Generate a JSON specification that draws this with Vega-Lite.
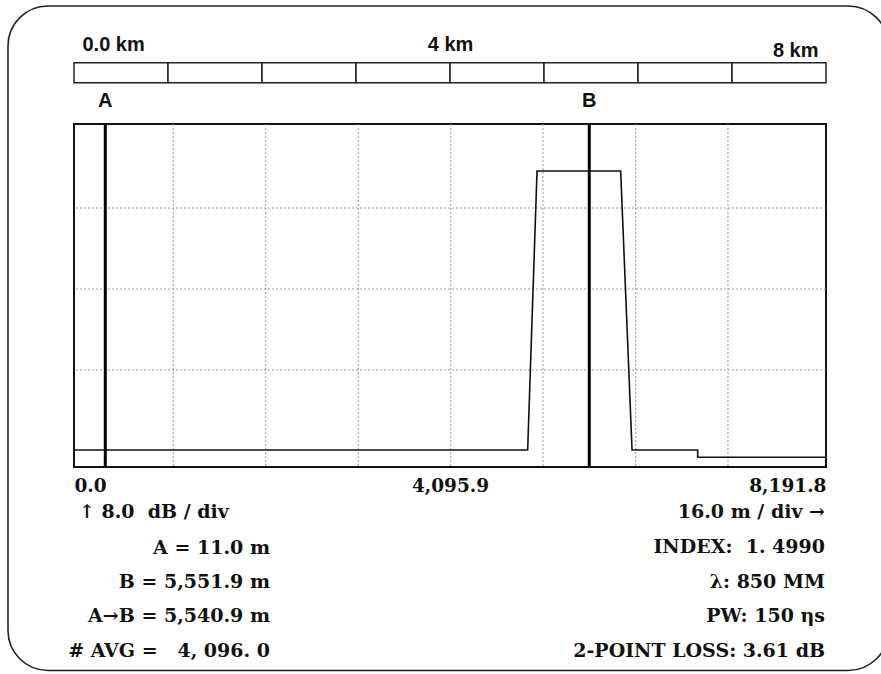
{
  "$schema": "https://vega.github.io/schema/vega-lite/v6.json",
  "width": 752,
  "height": 343,
  "autosize": {"type": "none"},
  "padding": {"left": 74, "top": 124, "right": 55, "bottom": 207},
  "background": "white",
  "config": {
    "view": {"stroke": "#111", "strokeWidth": 2},
    "text": {"color": "#111"}
  },
  "datasets": {
    "trace": [
      {"i": 0, "dist": 0, "dB": 0.1},
      {"i": 1, "dist": 4942, "dB": 0.1},
      {"i": 2, "dist": 5044, "dB": 27.66},
      {"i": 3, "dist": 5955, "dB": 27.66},
      {"i": 4, "dist": 6079, "dB": 0.1},
      {"i": 5, "dist": 6794, "dB": 0.1},
      {"i": 6, "dist": 6794, "dB": -0.62},
      {"i": 7, "dist": 8191.8, "dB": -0.62}
    ],
    "markers": [
      {"marker": "A", "dist": 341},
      {"marker": "B", "dist": 5613}
    ],
    "gridX": [
      {"dist": 1082}, {"dist": 2088}, {"dist": 3097}, {"dist": 4104},
      {"dist": 5109}, {"dist": 6119}, {"dist": 7124}
    ],
    "gridY": [
      {"dB": 8}, {"dB": 16}, {"dB": 24}
    ],
    "ruler": [
      {"from": 0, "to": 1024}, {"from": 1024, "to": 2048},
      {"from": 2048, "to": 3072}, {"from": 3072, "to": 4096},
      {"from": 4096, "to": 5120}, {"from": 5120, "to": 6144},
      {"from": 6144, "to": 7168}, {"from": 7168, "to": 8192}
    ],
    "info": [
      {"col": "scale", "text": "↑ 8.0\u00a0\u00a0dB / div"},
      {"col": "left", "text": "A = 11.0 m\nB = 5,551.9 m\nA→B = 5,540.9 m\n# AVG =\u00a0\u00a0\u00a04, 096. 0"},
      {"col": "right", "text": "16.0 m / div →\nINDEX:\u00a0\u00a01. 4990\nλ: 850 MM\nPW: 150 ηs\n2-POINT LOSS: 3.61 dB"}
    ]
  },
  "layer": [
    {
      "data": {"values": [{"panel": "screen"}]},
      "mark": {"type": "rect", "filled": false, "stroke": "#222", "strokeWidth": 1.6, "cornerRadius": 40, "clip": false},
      "encoding": {
        "x": {"datum": -719, "type": "quantitative", "axis": null},
        "x2": {"datum": 8870},
        "y": {"datum": 43.96, "type": "quantitative", "axis": null},
        "y2": {"datum": -21.68}
      }
    },
    {
      "data": {"name": "gridX"},
      "mark": {"type": "rule", "stroke": "#9a9a9a", "strokeWidth": 1, "strokeDash": [2, 2]},
      "encoding": {
        "x": {"field": "dist", "type": "quantitative", "axis": null}
      }
    },
    {
      "data": {"name": "gridY"},
      "mark": {"type": "rule", "stroke": "#9a9a9a", "strokeWidth": 1, "strokeDash": [2, 2]},
      "encoding": {
        "y": {"field": "dB", "type": "quantitative", "axis": null}
      }
    },
    {
      "data": {"name": "trace"},
      "mark": {"type": "line", "color": "#111", "strokeWidth": 1.6, "interpolate": "linear"},
      "encoding": {
        "x": {
          "field": "dist", "type": "quantitative",
          "scale": {"domain": [0, 8191.8], "nice": false, "zero": false},
          "axis": {
            "orient": "bottom", "values": [0, 4095.9, 8191.8], "format": ",.1f",
            "labelFlush": true, "labelFont": "DejaVu Serif", "labelFontWeight": "bold",
            "labelFontSize": 18.5, "labelColor": "#111", "labelBaseline": "alphabetic",
            "labelPadding": 24, "ticks": false, "tickSize": 0, "domain": false,
            "grid": false, "title": null
          }
        },
        "y": {
          "field": "dB", "type": "quantitative",
          "scale": {"domain": [-1.58, 32.3], "nice": false, "zero": false},
          "axis": null
        },
        "order": {"field": "i", "type": "quantitative"}
      }
    },
    {
      "data": {"name": "markers"},
      "mark": {"type": "rule", "stroke": "#000", "strokeWidth": 3},
      "encoding": {
        "x": {"field": "dist", "type": "quantitative", "axis": null}
      }
    },
    {
      "data": {"name": "markers"},
      "mark": {"type": "text", "font": "Liberation Sans", "fontWeight": "bold", "fontSize": 20, "align": "center", "baseline": "alphabetic", "clip": false},
      "encoding": {
        "x": {"field": "dist", "type": "quantitative", "axis": null},
        "y": {"datum": 33.95, "type": "quantitative", "axis": null},
        "text": {"field": "marker", "type": "nominal"}
      }
    },
    {
      "data": {"name": "ruler"},
      "mark": {"type": "rect", "fill": "white", "stroke": "#222", "strokeWidth": 1.5, "clip": false},
      "encoding": {
        "x": {
          "field": "from", "type": "quantitative",
          "axis": {
            "orient": "top", "values": [0, 4095.9, 8191.8],
            "labelExpr": "datum.value == 0 ? '0.0 km' : (datum.value < 5000 ? '4 km' : '8 km')",
            "labelFlush": true, "labelFlushOffset": -8,
            "labelFont": "Liberation Sans", "labelFontWeight": "bold", "labelFontSize": 20,
            "labelColor": "#111", "labelBaseline": "alphabetic",
            "labelPadding": {"condition": {"test": "datum.value > 8000", "value": 68}, "value": 74},
            "ticks": false, "tickSize": 0, "domain": false, "grid": false, "title": null
          }
        },
        "x2": {"field": "to"},
        "y": {"datum": 38.35, "type": "quantitative", "axis": null},
        "y2": {"datum": 36.38}
      }
    },
    {
      "data": {"name": "info"},
      "transform": [{"filter": "datum.col == 'scale'"}],
      "mark": {"type": "text", "font": "DejaVu Serif", "fontWeight": "bold", "fontSize": 19, "align": "left", "baseline": "alphabetic", "dx": 5, "clip": false},
      "encoding": {
        "x": {"datum": 0, "type": "quantitative", "axis": null},
        "y": {"datum": -6.65, "type": "quantitative", "axis": null},
        "text": {"field": "text", "type": "nominal"}
      }
    },
    {
      "data": {"name": "info"},
      "transform": [{"filter": "datum.col == 'left'"}],
      "mark": {"type": "text", "font": "DejaVu Serif", "fontWeight": "bold", "fontSize": 19, "align": "right", "baseline": "alphabetic", "lineBreak": "\n", "lineHeight": 34.1, "clip": false},
      "encoding": {
        "x": {"datum": 2135, "type": "quantitative", "axis": null},
        "y": {"datum": -10.2, "type": "quantitative", "axis": null},
        "text": {"field": "text", "type": "nominal"}
      }
    },
    {
      "data": {"name": "info"},
      "transform": [{"filter": "datum.col == 'right'"}],
      "mark": {"type": "text", "font": "DejaVu Serif", "fontWeight": "bold", "fontSize": 19, "align": "right", "baseline": "alphabetic", "lineBreak": "\n", "lineHeight": 34.6, "dx": -1, "clip": false},
      "encoding": {
        "x": {"datum": 8191.8, "type": "quantitative", "axis": null},
        "y": {"datum": -6.65, "type": "quantitative", "axis": null},
        "text": {"field": "text", "type": "nominal"}
      }
    }
  ]
}
